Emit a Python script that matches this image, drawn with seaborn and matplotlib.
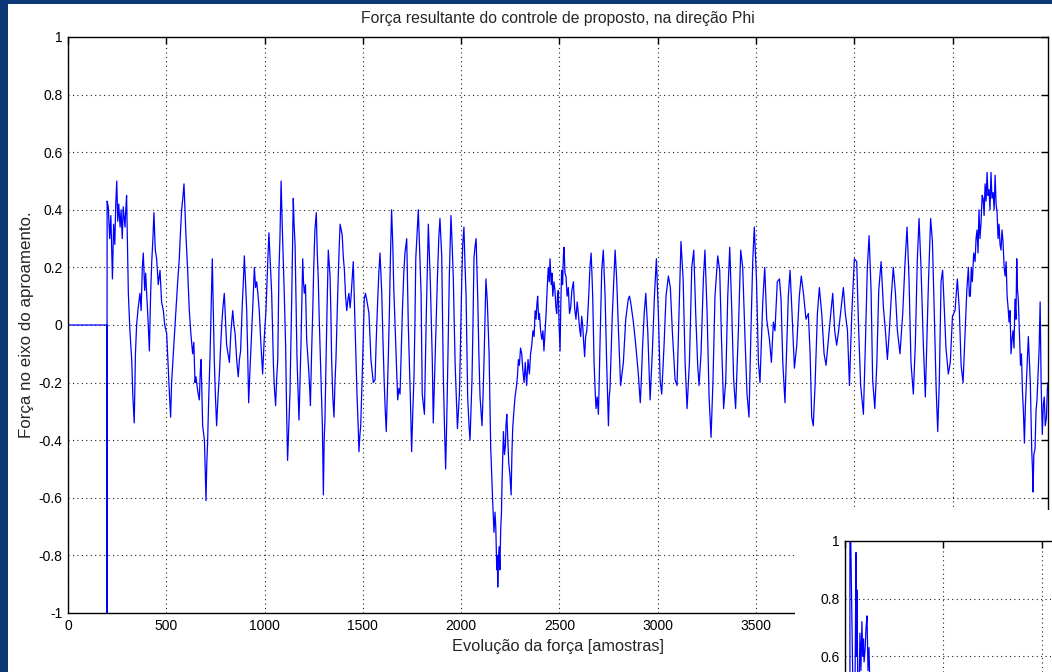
import pandas as pd
import matplotlib.pyplot as plt
import seaborn as sns
from matplotlib.patches import Rectangle

# Force trace: (sample, force) pairs, split in stretches
trecho_1 = [
    (0, 0.0), (197, 0.0), (198, -1.0), (199, 0.43), (205, 0.41), (212, 0.30), (218, 0.38),
    (226, 0.16), (232, 0.35), (238, 0.28), (243, 0.42), (248, 0.50), (253, 0.36), (258, 0.42),
    (265, 0.34), (270, 0.40), (276, 0.30), (281, 0.41), (290, 0.34), (294, 0.40), (298, 0.45),
    (307, 0.11), (315, -0.02), (324, -0.12), (330, -0.25), (337, -0.34), (343, -0.10),
    (349, 0.0), (357, 0.06), (366, 0.11), (372, 0.05), (378, 0.20), (383, 0.25), (390, 0.12),
    (395, 0.18), (400, 0.11), (407, 0.02), (414, -0.09), (420, 0.10), (426, 0.22), (432, 0.30),
    (437, 0.39), (444, 0.26), (451, 0.23), (459, 0.14), (468, 0.19), (476, 0.08), (485, 0.05),
    (492, 0.0), (502, -0.03), (510, -0.15), (516, -0.24), (522, -0.32), (527, -0.20),
    (532, -0.14), (540, -0.05), (549, 0.05), (557, 0.14), (566, 0.23), (572, 0.32), (578, 0.40),
    (584, 0.44), (590, 0.49), (595, 0.40), (600, 0.31), (608, 0.20), (617, 0.05), (625, -0.03),
    (634, -0.10), (640, -0.06), (646, -0.20), (651, -0.18), (660, -0.23), (668, -0.26),
    (673, -0.16), (677, -0.12), (685, -0.35), (694, -0.40), (698, -0.50), (702, -0.61),
    (706, -0.48), (710, -0.41), (716, -0.25), (722, -0.12), (728, 0.05), (734, 0.23),
    (739, 0.05), (744, -0.12), (750, -0.25), (756, -0.35), (763, -0.25), (770, -0.17),
    (776, -0.08), (782, 0.0), (788, 0.06), (795, 0.11), (801, 0.02), (807, -0.07), (814, -0.10),
    (821, -0.13), (829, -0.02), (838, 0.05), (844, 0.0), (850, -0.03), (858, -0.12),
    (866, -0.18), (872, -0.12), (878, -0.09), (887, 0.08), (892, 0.15), (897, 0.24), (903, 0.15),
    (909, 0.05), (914, -0.10), (919, -0.27), (926, -0.15), (934, -0.03), (941, 0.08),
    (948, 0.20), (954, 0.13), (960, 0.15), (967, 0.10), (973, 0.05), (980, -0.05), (990, -0.17),
    (998, -0.05),
]
trecho_2 = [
    (1007, 0.05), (1015, 0.20), (1022, 0.32), (1030, 0.20), (1036, 0.11), (1045, -0.14),
    (1050, -0.22), (1056, -0.28), (1062, -0.18), (1067, -0.12), (1073, 0.19), (1078, 0.30),
    (1084, 0.50), (1090, 0.34), (1100, 0.11), (1107, -0.07), (1112, -0.30), (1117, -0.47),
    (1123, -0.35), (1129, -0.24), (1138, 0.09), (1146, 0.44), (1150, 0.35), (1155, 0.28),
    (1165, -0.12), (1170, -0.22), (1175, -0.33), (1180, -0.20), (1185, -0.07), (1194, 0.23),
    (1198, 0.15), (1202, 0.11), (1208, 0.14), (1214, -0.05), (1223, -0.14), (1228, -0.20),
    (1233, -0.28), (1239, -0.10), (1245, 0.05), (1250, 0.20), (1256, 0.33), (1263, 0.39),
    (1268, 0.25), (1273, 0.16), (1278, 0.02), (1284, -0.12), (1290, -0.25), (1294, -0.35),
    (1299, -0.59), (1303, -0.40), (1307, -0.33), (1316, 0.0), (1324, 0.26), (1333, 0.17),
    (1337, 0.05), (1341, -0.12), (1347, -0.25), (1353, -0.32), (1358, -0.20), (1363, -0.12),
    (1372, 0.11), (1378, 0.24), (1384, 0.35), (1390, 0.33), (1395, 0.31), (1400, 0.24),
    (1406, 0.19), (1412, 0.10), (1418, 0.05), (1424, 0.09), (1429, 0.11), (1435, 0.06),
    (1440, 0.10), (1451, 0.22), (1456, 0.10), (1460, 0.0), (1465, -0.12), (1470, -0.24),
    (1476, -0.35), (1480, -0.44), (1485, -0.38), (1489, -0.35), (1499, -0.12), (1507, 0.09),
    (1513, 0.11), (1519, 0.09), (1531, 0.04), (1536, -0.04), (1541, -0.12), (1547, -0.16),
    (1553, -0.20), (1562, -0.19), (1568, -0.05), (1575, 0.08), (1581, 0.18), (1587, 0.25),
    (1596, 0.11), (1602, -0.05), (1609, -0.21), (1614, -0.30), (1619, -0.37), (1624, -0.25),
    (1629, -0.12), (1635, 0.05), (1640, 0.23), (1646, 0.40), (1652, 0.28), (1657, 0.13),
    (1667, -0.06), (1672, -0.15), (1677, -0.26), (1683, -0.22), (1689, -0.24), (1695, -0.10),
    (1701, 0.05), (1708, 0.18), (1714, 0.25), (1723, 0.30), (1727, 0.15), (1731, 0.0),
    (1736, -0.12), (1741, -0.24), (1748, -0.44), (1754, -0.30), (1760, -0.18), (1765, 0.02),
    (1769, 0.23), (1776, 0.32), (1782, 0.40), (1789, 0.25), (1796, 0.11), (1802, -0.24),
    (1808, -0.28), (1813, -0.31), (1818, -0.12), (1823, 0.05), (1828, 0.20), (1833, 0.35),
    (1838, 0.25), (1843, 0.15), (1853, -0.12), (1858, -0.34), (1867, -0.13), (1879, 0.16),
    (1886, 0.30), (1892, 0.37), (1901, 0.24), (1909, -0.17), (1915, -0.35), (1921, -0.50),
    (1926, -0.35), (1930, -0.21), (1940, 0.18), (1948, 0.38), (1954, 0.28), (1960, 0.16),
    (1969, -0.13), (1975, -0.25), (1981, -0.36), (1986, -0.30), (1991, -0.24),
]
trecho_3 = [
    (1997, -0.05), (2003, 0.16), (2008, 0.28), (2014, 0.34), (2019, 0.22), (2025, 0.10),
    (2033, -0.25), (2040, -0.35), (2045, -0.40), (2050, -0.30), (2055, -0.19), (2060, 0.0),
    (2065, 0.23), (2070, 0.27), (2076, 0.30), (2084, 0.10), (2090, -0.10), (2096, -0.25),
    (2106, -0.35), (2111, -0.25), (2116, -0.13), (2121, 0.02), (2126, 0.16), (2133, 0.08),
    (2142, -0.10), (2146, -0.25), (2150, -0.42), (2155, -0.52), (2159, -0.59), (2163, -0.66),
    (2167, -0.72), (2172, -0.65), (2176, -0.70), (2181, -0.85), (2184, -0.80), (2186, -0.91),
    (2189, -0.82), (2193, -0.77), (2197, -0.85), (2201, -0.71), (2205, -0.65), (2208, -0.54),
    (2212, -0.45), (2215, -0.37), (2220, -0.45), (2225, -0.42), (2228, -0.35), (2232, -0.31),
    (2237, -0.40), (2242, -0.48), (2248, -0.52), (2254, -0.59), (2258, -0.45), (2262, -0.36),
    (2268, -0.30), (2274, -0.25), (2280, -0.22), (2286, -0.18), (2291, -0.12), (2296, -0.14),
    (2302, -0.08), (2308, -0.10), (2314, -0.16), (2320, -0.20), (2326, -0.13), (2333, -0.21),
    (2340, -0.12), (2347, -0.17), (2353, -0.10), (2359, -0.07), (2365, -0.02), (2371, -0.04),
    (2376, 0.05), (2381, 0.02), (2385, 0.07), (2389, 0.10), (2394, 0.02), (2398, 0.04),
    (2404, -0.02), (2410, -0.05), (2416, -0.02), (2421, -0.09), (2426, -0.03), (2432, 0.04),
    (2437, 0.12), (2443, 0.20), (2448, 0.15), (2452, 0.23), (2458, 0.14), (2462, 0.18),
    (2466, 0.10), (2472, 0.15), (2477, 0.12), (2482, 0.06), (2486, 0.04), (2490, 0.10),
    (2494, 0.12), (2498, 0.0), (2503, -0.09), (2507, 0.08), (2511, 0.19), (2516, 0.14),
    (2520, 0.24), (2523, 0.27), (2528, 0.18), (2533, 0.17), (2539, 0.10), (2545, 0.13),
    (2551, 0.04), (2557, 0.06), (2563, 0.12), (2571, 0.15), (2577, 0.06), (2584, 0.02),
    (2590, 0.08), (2596, 0.04), (2602, -0.01), (2608, -0.04), (2613, 0.03), (2618, 0.0),
    (2623, -0.06), (2628, -0.11), (2633, -0.04), (2639, -0.02), (2645, 0.05), (2650, 0.12),
    (2655, 0.20), (2661, 0.25), (2665, 0.18), (2669, 0.10), (2676, -0.13), (2681, -0.22),
    (2686, -0.29), (2692, -0.25), (2698, -0.31), (2702, -0.20), (2706, -0.07), (2715, 0.19),
    (2723, 0.26), (2732, 0.10), (2740, -0.13), (2749, -0.35), (2753, -0.25), (2757, -0.22),
    (2769, 0.04), (2783, 0.26), (2791, 0.16), (2800, -0.02), (2811, -0.21), (2825, -0.13),
    (2837, 0.02), (2850, 0.09), (2856, 0.10), (2862, 0.08), (2876, 0.01), (2888, -0.07),
    (2901, -0.17), (2911, -0.27), (2917, -0.18), (2923, -0.07), (2931, 0.04), (2939, 0.11),
    (2949, -0.02), (2961, -0.26), (2972, -0.10), (2983, 0.10), (2993, 0.23),
]
trecho_4 = [
    (3003, 0.04), (3012, -0.19), (3020, -0.24), (3032, -0.07), (3042, 0.10), (3054, 0.17),
    (3064, 0.13), (3074, -0.02), (3088, -0.19), (3098, -0.21), (3108, 0.04), (3118, 0.29),
    (3129, 0.16), (3139, -0.13), (3149, -0.29), (3161, -0.13), (3173, 0.20), (3183, 0.26),
    (3193, 0.04), (3203, -0.14), (3210, -0.21), (3220, -0.10), (3232, 0.16), (3240, 0.26),
    (3251, 0.04), (3261, -0.25), (3271, -0.39), (3281, -0.19), (3291, 0.10), (3305, 0.24),
    (3315, 0.19), (3325, -0.07), (3335, -0.29), (3346, -0.19), (3356, 0.10), (3366, 0.27),
    (3376, 0.06), (3386, -0.19), (3396, -0.29), (3410, -0.02), (3422, 0.26), (3432, 0.20),
    (3444, -0.05), (3454, -0.24), (3464, -0.32), (3474, -0.02), (3483, 0.22), (3491, 0.34),
    (3502, 0.16), (3512, -0.13), (3520, -0.20), (3534, 0.08), (3544, 0.20), (3554, 0.02),
    (3568, -0.05), (3578, -0.13), (3588, 0.01), (3596, -0.02), (3608, 0.15), (3619, 0.16),
    (3627, 0.09), (3636, -0.13), (3647, -0.27), (3656, -0.07), (3664, 0.10), (3673, 0.19),
    (3683, 0.04), (3695, -0.15), (3707, -0.07), (3720, 0.10), (3730, 0.17), (3741, 0.11),
    (3754, 0.02), (3766, 0.04), (3775, -0.10), (3783, -0.32), (3791, -0.35), (3800, -0.21),
    (3812, 0.04), (3822, 0.13), (3834, 0.04), (3846, -0.10), (3856, -0.14), (3868, -0.05),
    (3880, 0.04), (3890, 0.11), (3900, -0.02), (3910, -0.07), (3920, -0.02), (3931, 0.05),
    (3944, 0.13), (3954, 0.04), (3965, -0.02), (3975, -0.21), (3987, 0.04),
]
trecho_5 = [
    (4000, 0.23), (4012, 0.22), (4022, -0.02), (4032, -0.21), (4046, -0.31), (4056, -0.07),
    (4066, 0.20), (4075, 0.31), (4085, 0.12), (4093, -0.19), (4104, -0.29), (4114, -0.14),
    (4124, 0.12), (4136, 0.22), (4148, 0.06), (4158, -0.02), (4168, -0.12), (4178, -0.02),
    (4188, 0.10), (4198, 0.20), (4209, 0.11), (4219, -0.02), (4232, -0.10), (4246, 0.04),
    (4258, 0.22), (4268, 0.34), (4278, 0.16), (4288, -0.13), (4300, -0.24), (4310, -0.07),
    (4320, 0.22), (4329, 0.37), (4339, 0.20), (4351, -0.07), (4361, -0.25), (4368, -0.08),
    (4377, 0.15), (4388, 0.37), (4397, 0.29), (4407, 0.03), (4416, -0.22), (4424, -0.37),
    (4432, -0.20), (4441, 0.15), (4449, 0.19), (4458, 0.05), (4466, -0.08), (4478, -0.17),
    (4488, -0.13), (4499, 0.03), (4512, 0.05), (4524, 0.16), (4534, 0.05), (4543, -0.14),
    (4553, -0.20), (4563, -0.03), (4572, 0.12), (4580, 0.20), (4585, 0.10), (4590, 0.10),
    (4595, 0.20), (4600, 0.15), (4607, 0.25), (4614, 0.22), (4619, 0.30), (4624, 0.33),
    (4629, 0.25), (4634, 0.40), (4639, 0.30), (4644, 0.35), (4650, 0.45), (4655, 0.44),
    (4660, 0.38), (4665, 0.49), (4670, 0.43), (4675, 0.53), (4680, 0.45), (4685, 0.47),
    (4690, 0.40), (4695, 0.53), (4700, 0.44), (4706, 0.46), (4711, 0.40), (4716, 0.52),
    (4721, 0.42), (4726, 0.39), (4731, 0.30), (4736, 0.35), (4741, 0.28), (4746, 0.26),
    (4751, 0.33), (4756, 0.29), (4762, 0.20), (4767, 0.17), (4772, 0.22), (4777, 0.10),
    (4782, 0.06), (4787, 0.01), (4792, 0.05), (4797, -0.10), (4802, -0.05), (4807, -0.02),
    (4812, -0.08), (4817, 0.09), (4822, 0.02), (4826, 0.23), (4830, 0.12), (4834, 0.09),
    (4840, -0.03), (4845, -0.14), (4850, -0.10), (4855, -0.23), (4860, -0.30), (4865, -0.41),
    (4870, -0.28), (4875, -0.20), (4880, -0.12), (4885, -0.04), (4890, -0.12), (4895, -0.20),
    (4899, -0.33), (4902, -0.43), (4906, -0.50), (4909, -0.58), (4913, -0.45), (4919, -0.43),
    (4924, -0.30), (4929, -0.26), (4934, -0.18), (4940, -0.08), (4945, 0.08), (4950, -0.20),
    (4956, -0.38), (4961, -0.28), (4966, -0.25), (4971, -0.35), (4977, -0.32), (4982, -0.22),
    (4985, -0.20),
]

# second (overlapping) chart, only its top-left corner is visible
inset_amostra = [0, 20, 25, 25, 40, 50, 56, 58, 61, 66, 72, 76, 81, 86, 90, 94, 97, 102, 107, 112, 117, 122, 130]
inset_forca = [0.0, 0.0, -1.0, 1.2, 0.5, 0.4, 0.96, 0.6, 0.83, 0.4, 0.5, 0.68, 0.55, 0.72, 0.6, 0.66, 0.58, 0.62, 0.7, 0.74, 0.55, 0.63, 0.4]
inset_y_ticks = [0.6, 0.8, 1]
inset_y_labels = ["0.6", "0.8", "1"]

x_ticks = [0, 500, 1000, 1500, 2000, 2500, 3000, 3500, 4000, 4500]
y_ticks = [-1, -0.8, -0.6, -0.4, -0.2, 0, 0.2, 0.4, 0.6, 0.8, 1]
y_tick_labels = ["-1", "-0.8", "-0.6", "-0.4", "-0.2", "0", "0.2", "0.4", "0.6", "0.8", "1"]

pts = trecho_1 + trecho_2 + trecho_3 + trecho_4 + trecho_5
df = pd.DataFrame(pts, columns=["amostra", "forca"])
df_inset = pd.DataFrame({"amostra": inset_amostra, "forca": inset_forca})

sns.set_style("white")
plt.rcParams["font.family"] = ["Liberation Sans", "DejaVu Sans"]
plt.rcParams["font.size"] = 10

W, H = 1052, 672
fig = plt.figure(figsize=(W / 100, H / 100), dpi=100)
fig.patch.set_facecolor("#0c3878")
# white slide panel
fig.patches.append(Rectangle((8 / W, 0), 1 - 8 / W, 1 - 4 / H, transform=fig.transFigure,
                             facecolor="white", edgecolor="none", zorder=0))


def matlab_style(ax):
    ax.set_facecolor("white")
    for s in ax.spines.values():
        s.set_color("black")
        s.set_linewidth(1.0)
        s.set_visible(True)
    ax.tick_params(direction="in", length=5, width=1, top=True, right=True,
                   colors="black", labelcolor="black", labelsize=10, pad=4)
    ax.grid(True, color="#222222", linestyle=(0, (1, 3)), linewidth=0.8)
    ax.set_xticks(x_ticks)
    ax.set_xlim(0, 4985)


ax = fig.add_axes([68 / W, 1 - 613 / H, 980 / W, 576 / H], zorder=1)
sns.lineplot(data=df, x="amostra", y="forca", ax=ax, color="#0000ff", linewidth=0.9,
             estimator=None, sort=False)
matlab_style(ax)
ax.set_yticks(y_ticks)
ax.set_yticklabels(y_tick_labels)
ax.set_ylim(-1, 1)
ax.set_title("Força resultante do controle de proposto, na direção Phi", fontsize=11.3, pad=10)
ax.set_xlabel("Evolução da força [amostras]", fontsize=11.8, labelpad=5)
ax.set_ylabel("Força no eixo do aproamento.", fontsize=12.2, labelpad=3)

# white block of the overlapping second chart
fig.patches.append(Rectangle((795 / W, 0), 1 - 795 / W, 162 / H, transform=fig.transFigure,
                             facecolor="white", edgecolor="none", zorder=2))

# same scale as the main chart, cut at the bottom of the slide
ax2 = fig.add_axes([845 / W, 0, 980 / W, 131 / H], zorder=3)
sns.lineplot(data=df_inset, x="amostra", y="forca", ax=ax2, color="#0000ff", linewidth=0.9,
             estimator=None, sort=False)
matlab_style(ax2)
ax2.set_yticks(inset_y_ticks)
ax2.set_yticklabels(inset_y_labels)
ax2.set_ylim(1 - 131 / 288, 1)
ax2.spines["bottom"].set_visible(False)
ax2.tick_params(bottom=False, labelbottom=False)
ax2.set_xlabel("")
ax2.set_ylabel("")

plt.savefig("out.png", dpi=100, facecolor=fig.get_facecolor())
